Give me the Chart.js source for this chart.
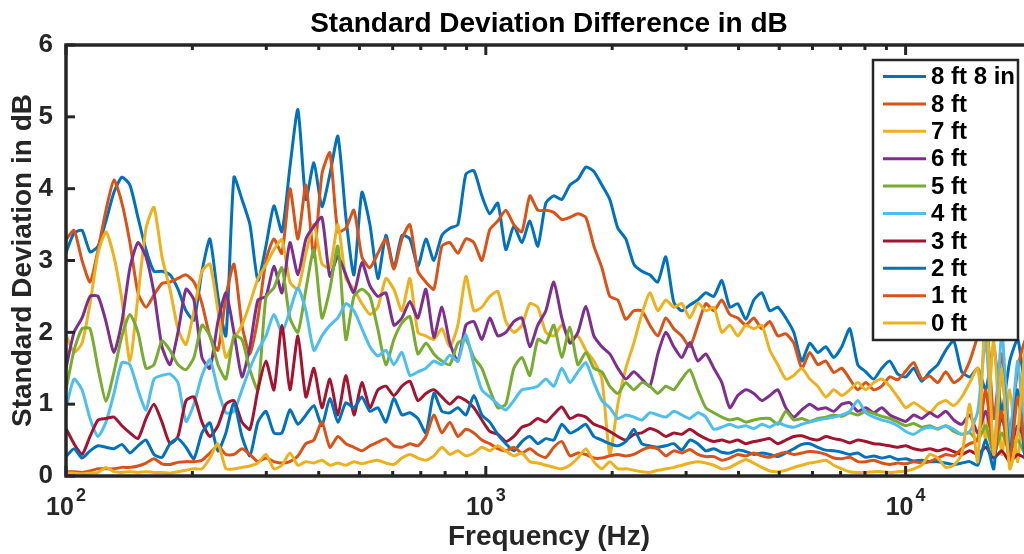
<!DOCTYPE html>
<html>
<head>
<meta charset="utf-8">
<title>Standard Deviation Difference in dB</title>
<script src="https://cdn.jsdelivr.net/npm/chart.js@4.4.1/dist/chart.umd.min.js"></script>
<style>
    html, body { margin: 0; padding: 0; background: #fff; overflow: hidden; }
    #wrap { width: 1040px; height: 554px; }
</style>
</head>
<body>
<div id="wrap"><canvas id="sdChart" width="1040" height="554"></canvas></div>
<script>
// Frequency grid (Hz), shared by every curve
const freqHz = [
    100, 104.5, 109.2, 114.1, 119.2, 124.5, 130.1, 135.9,
    142.0, 148.4, 155.1, 162.0, 169.3, 176.9, 184.8, 193.1,
    201.7, 210.8, 220.2, 230.1, 240.4, 251.2, 262.5, 274.2,
    286.5, 299.4, 312.8, 326.8, 341.5, 356.8, 372.8, 389.5,
    407.0, 425.2, 444.3, 464.2, 485.1, 506.8, 529.5, 553.3,
    578.1, 604.0, 631.1, 659.4, 689.0, 719.9, 752.1, 785.9,
    821.1, 857.9, 896.4, 936.6, 978.6, 1022, 1068, 1116,
    1166, 1219, 1273, 1330, 1390, 1452, 1517, 1586,
    1657, 1731, 1809, 1890, 1974, 2063, 2155, 2252,
    2353, 2459, 2569, 2684, 2804, 2930, 3062, 3199,
    3342, 3492, 3649, 3812, 3983, 4162, 4349, 4544,
    4748, 4960, 5183, 5415, 5658, 5912, 6177, 6454,
    6744, 7046, 7362, 7692, 8037, 8398, 8774, 9168,
    9579, 10009, 10457, 10926, 11416, 11928, 12463, 13022,
    13606, 14216, 14854, 15520, 16216, 16943, 17703, 18497,
    19327, 20000
];

// Standard deviation difference (dB) per microphone height
const sd8ft8in = [
    3.11, 3.38, 3.42, 3.12, 3.2, 3.55, 3.95, 4.16,
    4.05, 3.6, 3.15, 2.85, 2.85, 2.8, 2.6, 2.3,
    2.17, 2.85, 3.3, 2.5, 1.95, 4.16, 3.85, 3.5,
    2.72, 3.2, 3.76, 3.4, 4.3, 5.1, 3.85, 4.36,
    3.75, 4.2, 4.73, 3.6, 2.8, 3.95, 3.5, 2.75,
    3.35, 2.9, 3.35, 3.3, 2.92, 3.3, 3.0, 3.35,
    3.45, 3.5, 4.2, 4.25, 3.9, 3.65, 3.8, 3.15,
    3.48, 3.25, 3.55, 3.2, 3.8, 3.9, 3.85, 4.05,
    4.13, 4.3, 4.24, 4.05, 3.85, 3.45, 3.3, 2.95,
    2.85, 2.8, 2.7, 3.05, 2.42, 2.3, 2.38, 2.45,
    2.55, 2.5, 2.72, 2.35, 2.4, 2.18, 2.45, 2.55,
    2.3, 2.35, 2.2, 2.0, 1.6, 1.85, 1.72, 1.8,
    1.65, 1.8, 2.05, 1.55, 1.45, 1.35, 1.5, 1.6,
    1.42, 1.38, 1.5, 1.32, 1.45, 1.55, 1.75, 1.88,
    1.45, 1.38, 1.5, 1.2, 1.8, 0.9, 1.6, 1.9,
    1.2, 1.6
];
const sd8ft = [
    3.29, 3.42, 3.0, 2.7, 3.15, 3.7, 4.12, 3.8,
    3.25, 2.55, 2.35, 2.52, 2.68, 2.7, 2.75, 2.8,
    2.7, 2.4, 1.95, 1.75, 2.5, 2.95, 2.1, 1.7,
    2.2, 3.0, 3.3, 3.1, 4.0, 3.3, 4.05, 3.05,
    4.2, 4.5, 3.4, 3.45, 3.7, 3.05, 2.9, 3.1,
    3.3, 2.88, 3.3, 3.5, 2.85, 2.7, 2.6, 3.2,
    3.25, 3.1, 3.3, 3.25, 3.0, 3.43, 3.55, 3.7,
    3.5, 3.4, 3.9, 3.7, 3.7, 3.67, 3.57, 3.6,
    3.65, 3.6, 3.2, 2.9, 2.5, 2.45, 2.18, 2.3,
    2.3, 2.1, 1.95, 2.2, 2.05, 1.95, 1.8, 2.1,
    2.4, 2.3, 2.45, 2.25, 2.2, 2.1, 2.2, 2.05,
    2.15, 1.95, 1.98, 1.85, 1.5, 1.72, 1.55, 1.6,
    1.44, 1.5, 1.35, 1.2, 1.3, 1.2, 1.25, 1.38,
    1.34, 1.46, 1.58, 1.35, 1.39, 1.3, 1.45, 1.3,
    1.38, 1.6, 1.95, 2.3, 0.8, 1.7, 0.6, 1.5,
    1.9, 1.4
];
const sd7ft = [
    1.97, 1.72, 1.85, 2.4, 3.1, 3.4, 3.05, 2.45,
    1.6, 2.5, 3.45, 3.74, 3.05, 2.6, 2.05, 1.83,
    2.3, 2.85, 2.95, 2.3, 1.65, 1.9, 2.1, 2.4,
    2.75, 2.94, 3.15, 3.29, 2.7, 2.6, 3.1, 3.5,
    2.95, 2.9, 3.5, 2.75, 2.6, 2.4, 2.25, 2.35,
    2.75, 2.6, 2.3, 2.75, 2.0, 1.95, 1.9, 2.05,
    1.8, 2.1, 2.78, 2.3, 2.35, 2.5, 2.57, 2.15,
    2.0, 2.1, 2.4, 2.35, 2.0, 1.95, 2.1, 1.9,
    1.95, 1.75, 1.6, 1.35, 0.3, 1.0, 1.5, 1.85,
    2.25, 2.55, 2.3, 2.45, 2.35, 2.4, 2.2, 2.41,
    2.3, 2.35, 2.0, 2.1, 1.95, 2.1, 2.05, 2.1,
    1.75, 1.55, 1.35, 1.4, 1.5, 1.35, 1.25, 1.1,
    1.2, 1.12, 1.2, 1.3, 1.2, 1.3, 1.35, 1.25,
    1.1, 0.95, 1.02, 0.95, 0.88, 1.0, 1.05, 0.98,
    1.1, 1.3, 1.5, 0.5, 1.9, 0.3, 1.2, 0.2,
    1.5, 0.6
];
const sd6ft = [
    1.5, 2.0, 2.2, 2.5, 2.5, 2.15, 1.72, 2.15,
    2.9, 3.25, 3.05, 2.55, 1.8, 1.55, 2.0, 2.6,
    2.45, 1.65, 1.5, 2.15, 2.55, 2.0, 1.38, 1.8,
    2.45, 2.5, 2.92, 2.55, 3.25, 2.8, 3.3, 3.48,
    3.6, 2.78, 3.06, 2.8, 2.55, 2.97, 2.65, 2.5,
    2.55, 2.1, 2.2, 2.43, 2.2, 2.6, 1.93, 2.35,
    1.85, 1.6, 2.1, 2.15, 1.9, 2.2, 1.95, 2.0,
    2.15, 2.2, 1.8, 2.1, 2.3, 2.7, 2.2, 1.85,
    2.0, 2.36, 1.95, 1.8, 1.7, 1.5, 1.35, 1.45,
    1.35, 1.25, 1.7, 2.0, 1.8, 1.65, 1.86, 1.6,
    1.7, 1.5, 1.3, 0.95, 1.12, 1.2, 1.15, 1.05,
    1.12, 1.2, 0.95, 0.82, 0.92, 1.0, 0.93, 0.95,
    0.9, 1.0, 1.02, 0.9, 0.95, 0.88, 0.95, 0.85,
    0.8, 0.76, 0.85, 0.8, 0.88, 0.82, 0.9, 0.78,
    0.72, 0.85, 0.6, 0.9, 0.5, 0.8, 0.4, 0.7,
    0.5, 0.6
];
const sd5ft = [
    1.2, 1.75, 2.05, 2.05, 1.5, 1.04, 1.45, 1.95,
    2.25, 2.0, 1.5, 1.55, 1.88, 1.75, 1.55, 1.48,
    1.65, 2.1, 1.95, 1.55, 1.35, 1.95, 1.9, 1.48,
    1.2, 2.49, 2.62, 2.9, 2.2, 2.0, 2.6, 3.15,
    2.2, 2.6, 3.2, 1.9, 2.5, 2.6, 2.5, 2.04,
    1.55, 1.9, 2.13, 2.22, 1.7, 1.85, 1.7, 1.6,
    1.55, 1.85, 1.9, 1.65, 1.5, 1.2, 0.95, 1.0,
    1.5, 1.65, 1.4, 1.9, 1.85, 2.1, 1.65, 2.07,
    1.55, 1.72, 1.5, 1.45, 1.25, 1.15, 1.3, 1.2,
    1.3, 1.25, 1.15, 1.25, 1.2, 1.35, 1.48, 1.2,
    0.95, 0.88, 0.82, 0.78, 0.8, 0.75, 0.78, 0.8,
    0.8, 0.72, 0.9, 0.78, 0.8, 0.76, 0.8, 0.82,
    0.85, 0.83, 0.88, 0.85, 0.9, 0.87, 0.83, 0.8,
    0.75, 0.7, 0.73, 0.68, 0.7, 0.65, 0.7, 0.62,
    0.58, 0.6, 0.5, 0.7, 0.3, 0.6, 0.35, 0.5,
    0.3, 0.45
];
const sd4ft = [
    0.95, 1.35, 1.2, 0.8, 0.55, 0.75, 1.15, 1.58,
    1.55, 1.2, 0.92, 1.35, 1.4, 1.42, 1.3, 0.76,
    1.0, 1.4, 1.62, 1.2, 0.88, 0.9, 1.2, 1.5,
    1.75, 1.95, 2.25, 2.0, 2.3, 2.62, 2.3, 1.75,
    1.95, 2.1, 2.2, 2.4, 2.3, 2.05, 1.8, 1.67,
    1.75, 1.55, 1.72, 1.4, 1.45, 1.5, 1.6, 1.55,
    1.68, 1.6, 1.97, 1.55, 1.2, 1.1, 1.0, 0.92,
    1.05, 1.2, 1.22, 1.25, 1.35, 1.25, 1.5, 1.3,
    1.45, 1.58, 1.3, 1.05, 0.95, 0.8, 0.85, 0.82,
    0.78, 0.88, 0.85, 0.82, 0.9, 0.85, 0.8, 0.88,
    0.82, 0.65, 0.68, 0.72, 0.68, 0.7, 0.66, 0.72,
    0.68, 0.74, 0.7, 0.68, 0.72, 0.75, 0.78, 0.8,
    0.82, 0.85, 0.9, 1.05, 0.88, 0.82, 0.78, 0.75,
    0.7, 0.62, 0.58, 0.65, 0.68, 0.66, 0.7, 0.65,
    0.58, 0.62, 0.9, 1.9, 0.3, 2.0, 0.5, 1.6,
    0.4, 1.0
];
const sd3ft = [
    0.66, 0.45, 0.3, 0.55, 0.78, 0.8, 0.82, 0.7,
    0.6, 0.52, 0.8, 1.0, 0.75, 0.45, 0.55, 1.05,
    1.1, 0.75, 0.55, 0.7, 1.0, 1.05, 0.75, 0.65,
    1.2, 1.6, 1.2, 2.1, 1.2, 1.95, 1.1, 1.5,
    0.95, 1.35, 0.85, 1.4, 0.85, 1.3, 0.95, 1.2,
    1.25, 1.12, 1.25, 1.32, 1.05, 1.15, 1.2, 1.1,
    1.0, 1.1, 1.05, 0.95, 0.78, 0.62, 0.58, 0.48,
    0.55, 0.68, 0.72, 0.8, 0.75, 0.86, 0.96, 0.8,
    0.85, 0.82, 0.72, 0.68, 0.62, 0.55, 0.5, 0.58,
    0.6, 0.66, 0.62, 0.55, 0.6, 0.58, 0.65, 0.58,
    0.52, 0.48, 0.5, 0.47, 0.5, 0.45, 0.48, 0.5,
    0.52, 0.45, 0.5, 0.55, 0.56, 0.52, 0.5, 0.55,
    0.52, 0.5, 0.46, 0.5, 0.48, 0.45, 0.44, 0.42,
    0.4, 0.42, 0.38, 0.36, 0.38, 0.35, 0.38, 0.34,
    0.3, 0.35, 0.3, 0.4, 0.25, 0.35, 0.2, 0.3,
    0.25, 0.3
];
const sd2ft = [
    0.27, 0.38, 0.25, 0.35, 0.42, 0.4, 0.38, 0.44,
    0.32, 0.42, 0.5, 0.3, 0.26, 0.45, 0.52, 0.4,
    0.24, 0.6, 0.74, 0.35, 0.6, 1.02, 0.55, 0.28,
    0.75, 0.9, 0.6, 0.6, 0.92, 0.72, 0.85, 0.98,
    0.7, 1.08, 0.75, 1.02, 0.95, 1.1, 0.9, 0.95,
    0.75, 1.08, 0.85, 0.88, 0.8, 0.6, 1.15, 0.9,
    0.88, 0.95, 0.85, 1.12, 0.85, 0.75, 0.58, 0.45,
    0.35, 0.48, 0.55, 0.45, 0.52, 0.5, 0.72, 0.6,
    0.65, 0.72, 0.55, 0.5, 0.45, 0.42, 0.48, 0.65,
    0.45, 0.42, 0.4, 0.42, 0.45, 0.36, 0.5, 0.45,
    0.35, 0.38, 0.33, 0.32, 0.36, 0.34, 0.3, 0.32,
    0.3, 0.27, 0.32, 0.38, 0.44, 0.45, 0.4, 0.36,
    0.35, 0.33, 0.3, 0.32, 0.26, 0.28, 0.25, 0.27,
    0.23, 0.24, 0.21, 0.22, 0.2, 0.2, 0.18, 0.16,
    0.18, 0.2, 0.15, 0.5, 0.1, 1.5, 0.3, 1.2,
    0.2, 0.8
];
const sd1ft = [
    0.06, 0.06, 0.05, 0.07, 0.1, 0.1, 0.1, 0.12,
    0.12, 0.14, 0.18, 0.24, 0.17, 0.16, 0.19, 0.2,
    0.2, 0.22, 0.32, 0.42, 0.3, 0.3, 0.38, 0.3,
    0.2, 0.25, 0.2, 0.18, 0.2, 0.28, 0.45, 0.5,
    0.75, 0.4, 0.55, 0.45, 0.4, 0.35, 0.42, 0.47,
    0.52, 0.42, 0.4, 0.45, 0.42, 0.55, 0.85, 0.6,
    0.75, 0.55, 0.65, 0.6, 0.5, 0.45, 0.38, 0.35,
    0.4, 0.32, 0.38, 0.3, 0.26, 0.4, 0.48, 0.28,
    0.32, 0.3, 0.25, 0.25, 0.28, 0.3, 0.28, 0.3,
    0.36, 0.4, 0.38, 0.28, 0.35, 0.32, 0.37, 0.3,
    0.27, 0.27, 0.22, 0.25, 0.3, 0.28, 0.32, 0.28,
    0.26, 0.3, 0.33, 0.3, 0.32, 0.34, 0.33, 0.3,
    0.25, 0.24, 0.26, 0.2, 0.2, 0.22, 0.18, 0.16,
    0.18, 0.17, 0.2, 0.18, 0.2, 0.25, 0.3, 0.28,
    0.38, 0.45, 0.5, 1.2, 0.3, 0.9, 0.2, 1.1,
    0.4, 0.8
];
const sd0ft = [
    0.04, 0.04, 0.03, 0.04, 0.05, 0.12, 0.06, 0.05,
    0.06, 0.05, 0.06, 0.05, 0.05, 0.04, 0.06, 0.08,
    0.1, 0.1, 0.25, 0.45, 0.1, 0.1, 0.12, 0.14,
    0.18, 0.3, 0.1, 0.15, 0.32, 0.15, 0.2, 0.18,
    0.22, 0.15, 0.18, 0.15, 0.2, 0.17, 0.2, 0.22,
    0.18, 0.16, 0.25, 0.3, 0.25, 0.22, 0.28, 0.4,
    0.3, 0.35, 0.28, 0.32, 0.4, 0.35, 0.42, 0.35,
    0.28, 0.32, 0.2, 0.18, 0.15, 0.12, 0.1, 0.15,
    0.25, 0.38, 0.2, 0.1, 0.2, 0.1, 0.1, 0.08,
    0.06, 0.05, 0.08, 0.1, 0.12, 0.15, 0.18, 0.2,
    0.18, 0.15, 0.1, 0.12, 0.18, 0.23, 0.18, 0.12,
    0.07, 0.06, 0.08, 0.12, 0.15, 0.18, 0.2, 0.22,
    0.15, 0.1, 0.06, 0.05, 0.05, 0.06, 0.06, 0.05,
    0.06, 0.07, 0.1, 0.15, 0.3, 0.25, 0.12, 0.15,
    0.3, 1.0, 0.2, 2.4, 0.3, 1.5, 0.1, 0.6,
    1.8, 0.3
];

const seriesLabels = ['8 ft 8 in', '8 ft', '7 ft', '6 ft', '5 ft', '4 ft', '3 ft', '2 ft', '1 ft', '0 ft'];
const seriesValues = [sd8ft8in, sd8ft, sd7ft, sd6ft, sd5ft, sd4ft, sd3ft, sd2ft, sd1ft, sd0ft];

// MATLAB default line colour order
const lineColors = ['#0072BD', '#D95319', '#EDB120', '#7E2F8E', '#77AC30', '#4DBEEE', '#A2142F',
                    '#0072BD', '#D95319', '#EDB120'];

const FONT = "'Liberation Sans', Arial, Helvetica, sans-serif";
const AXIS_COLOR = '#262626';

// Box, inward ticks and 10^n labels, drawn over the curves like MATLAB does
const axesFrame = {
    id: 'axesFrame',
    afterDatasetsDraw(chart) {
        const { ctx, chartArea: a, scales: { x, y } } = chart;
        ctx.save();
        ctx.strokeStyle = AXIS_COLOR;
        ctx.lineCap = 'butt';

        // x ticks on bottom and top edges
        ctx.lineWidth = 3;
        [100, 1000, 10000].forEach(decade => {
            for (let m = 1; m <= 9; m++) {
                const v = m * decade;
                if (v > 20000) break;
                const px = x.getPixelForValue(v);
                const len = m === 1 ? 10 : 5;
                ctx.beginPath();
                ctx.moveTo(px, a.bottom);
                ctx.lineTo(px, a.bottom - len);
                ctx.moveTo(px, a.top);
                ctx.lineTo(px, a.top + len);
                ctx.stroke();
            }
        });

        // y ticks on the left edge
        for (let v = 0; v <= 6; v++) {
            const py = y.getPixelForValue(v);
            ctx.beginPath();
            ctx.moveTo(a.left, py);
            ctx.lineTo(a.left + 9, py);
            ctx.stroke();
        }

        ctx.lineWidth = 3.5;
        ctx.strokeRect(a.left, a.top, a.right - a.left, a.bottom - a.top);

        // decade labels with superscript exponent
        ctx.fillStyle = AXIS_COLOR;
        ctx.textBaseline = 'alphabetic';
        ctx.textAlign = 'left';
        [2, 3, 4].forEach(p => {
            const px = x.getPixelForValue(Math.pow(10, p));
            ctx.font = `bold 25px ${FONT}`;
            const wb = ctx.measureText('10').width;
            ctx.font = `bold 18px ${FONT}`;
            const we = ctx.measureText(String(p)).width;
            const start = px - (wb + 2 + we) / 2;
            ctx.font = `bold 25px ${FONT}`;
            ctx.fillText('10', start, 515);
            ctx.font = `bold 18px ${FONT}`;
            ctx.fillText(String(p), start + wb + 2, 501);
        });
        ctx.restore();
    }
};

// Chart title centred over the plot area
const plotTitle = {
    id: 'plotTitle',
    afterDraw(chart) {
        const { ctx, chartArea: a } = chart;
        ctx.save();
        ctx.fillStyle = '#000';
        ctx.font = `bold 28px ${FONT}`;
        ctx.textAlign = 'center';
        ctx.textBaseline = 'alphabetic';
        ctx.fillText('Standard Deviation Difference in dB', (a.left + a.right) / 2, 32);
        ctx.restore();
    }
};

// Boxed legend in the upper right corner of the axes
const boxLegend = {
    id: 'boxLegend',
    afterDraw(chart) {
        const { ctx } = chart;
        const left = 873, top = 60, right = 1018, bottom = 340;
        ctx.save();
        ctx.fillStyle = '#fff';
        ctx.fillRect(left, top, right - left, bottom - top);
        ctx.strokeStyle = AXIS_COLOR;
        ctx.lineWidth = 2.5;
        ctx.strokeRect(left, top, right - left, bottom - top);

        ctx.font = `bold 24px ${FONT}`;
        ctx.textAlign = 'left';
        ctx.textBaseline = 'middle';
        chart.data.datasets.forEach((ds, i) => {
            const cy = 76.5 + i * 27.4;
            ctx.strokeStyle = ds.borderColor;
            ctx.lineWidth = 3;
            ctx.beginPath();
            ctx.moveTo(883, cy);
            ctx.lineTo(926, cy);
            ctx.stroke();
            ctx.fillStyle = '#000';
            ctx.fillText(ds.label, 931, cy + 1);
        });
        ctx.restore();
    }
};

const datasets = seriesValues.map((vals, i) => ({
    label: seriesLabels[i],
    data: vals.map((v, k) => ({ x: freqHz[k], y: v })),
    borderColor: lineColors[i],
    backgroundColor: lineColors[i],
    borderWidth: 3,
    pointRadius: 0,
    tension: 0.2,
    fill: false,
    borderJoinStyle: 'round',
    // later series are drawn on top
    order: seriesValues.length - 1 - i
}));

new Chart(document.getElementById('sdChart'), {
    type: 'line',
    data: { datasets: datasets },
    options: {
        responsive: false,
        devicePixelRatio: 1,
        animation: false,
        events: [],
        layout: { padding: { top: 45, right: 8, left: 0, bottom: 0 } },
        plugins: {
            legend: { display: false },
            tooltip: { enabled: false },
            title: { display: false }
        },
        scales: {
            x: {
                type: 'logarithmic',
                min: 100,
                max: 20000,
                grid: { display: false },
                border: { display: false },
                ticks: { display: false },
                title: {
                    display: true,
                    text: 'Frequency (Hz)',
                    color: AXIS_COLOR,
                    font: { family: FONT, size: 28, weight: 'bold', lineHeight: 1.2 },
                    padding: { top: 0, bottom: 0 }
                },
                afterFit(scale) { scale.height = 78; }
            },
            y: {
                min: 0,
                max: 6,
                grid: { display: false },
                border: { display: false },
                ticks: {
                    stepSize: 1,
                    padding: 5,
                    color: AXIS_COLOR,
                    font: { family: FONT, size: 26, weight: 'bold' }
                },
                title: {
                    display: true,
                    text: 'Standard Deviation in dB',
                    color: AXIS_COLOR,
                    font: { family: FONT, size: 28, weight: 'bold', lineHeight: 1.2 },
                    padding: { top: 6, bottom: 0 }
                },
                afterFit(scale) { scale.width = 66; }
            }
        }
    },
    plugins: [axesFrame, plotTitle, boxLegend]
});
</script>
</body>
</html>
